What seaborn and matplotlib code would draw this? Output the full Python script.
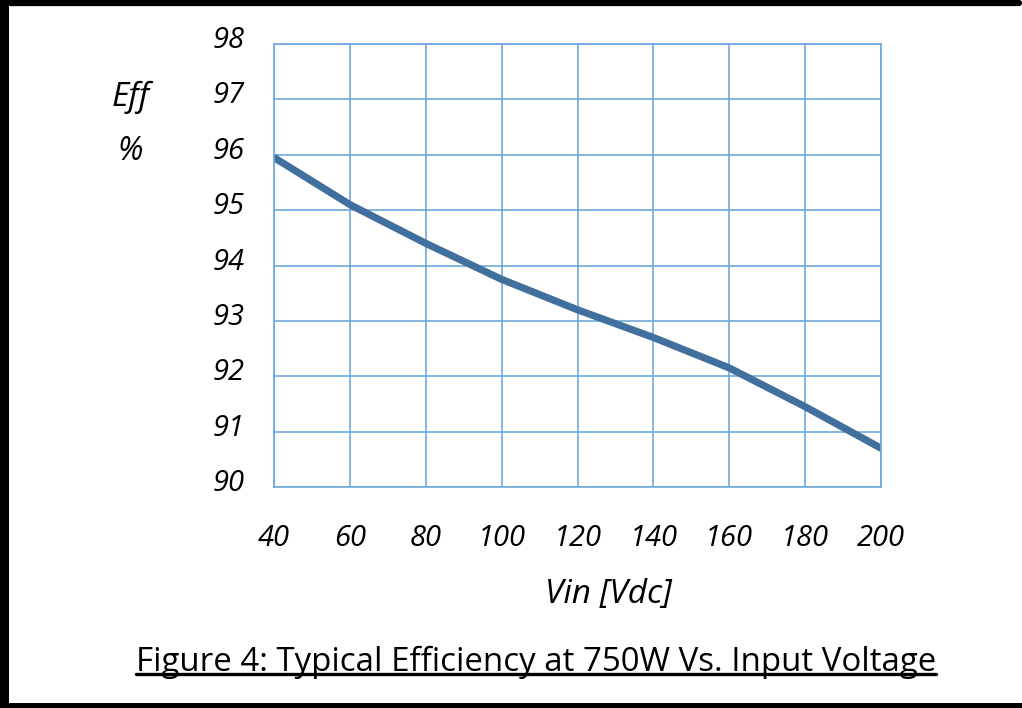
import pandas as pd
import numpy as np
import matplotlib
matplotlib.use('Agg')
import matplotlib.pyplot as plt
import matplotlib.transforms as mtransforms
import seaborn as sns
from matplotlib.lines import Line2D

# data
vin = [40, 60, 80, 100, 120, 140, 160, 180, 200]
eff = [95.95, 95.1, 94.4, 93.75, 93.2, 92.7, 92.15, 91.45, 90.7]
x_ticks = [40, 60, 80, 100, 120, 140, 160, 180, 200]
y_ticks = [90, 91, 92, 93, 94, 95, 96, 97, 98]

grid_col = '#6fa8dc'
line_col = '#41709f'
font = 'Open Sans'


def main():
    df = pd.DataFrame({'vin': vin, 'eff': eff})

    sns.set_style('white')
    plt.rcParams['font.family'] = [font, 'DejaVu Sans']
    plt.rcParams['text.color'] = 'black'
    plt.rcParams['xtick.labelcolor'] = 'black'
    plt.rcParams['ytick.labelcolor'] = 'black'

    fig = plt.figure(figsize=(10.22, 7.08), dpi=100)
    ax = fig.add_axes([274 / 1022, 1 - 487 / 708, (881 - 274) / 1022, (487 - 44) / 708])

    sns.lineplot(data=df, x='vin', y='eff', color=line_col, linewidth=5.2, ax=ax)

    ax.set_xlim(40, 200)
    ax.set_ylim(90, 98)
    ax.set_xticks(x_ticks)
    ax.set_yticks(y_ticks)
    ax.set_xticklabels([str(v) for v in x_ticks], fontsize=21, style='italic')
    ax.set_yticklabels([str(v) for v in y_ticks], fontsize=21, style='italic')
    ax.tick_params(axis='x', length=5, color=grid_col, width=1.2, pad=21.5, labelcolor='black')
    ax.tick_params(axis='y', length=5, color=grid_col, width=1.2, pad=16, labelcolor='black')
    # y labels sit a little above their gridlines
    shift = mtransforms.ScaledTranslation(0, 5 / 72, fig.dpi_scale_trans)
    for lab in ax.get_yticklabels():
        lab.set_transform(lab.get_transform() + shift)
    ax.grid(True, color=grid_col, linewidth=1.2)
    for sp in ax.spines.values():
        sp.set_color(grid_col)
        sp.set_linewidth(1.2)
    ax.set_xlabel('')
    ax.set_ylabel('')

    # axis captions
    fig.text(131 / 1022, 1 - 97 / 708, 'Eff', fontsize=24, style='italic', ha='center', va='center')
    fig.text(130 / 1022, 1 - 152 / 708, '%', fontsize=23, style='italic', ha='center', va='center')
    fig.text(608 / 1022, 1 - 595 / 708, 'Vin [Vdc]', fontsize=24, style='italic', ha='center', va='center')

    title = fig.text(536 / 1022, 1 - 671 / 708, 'Figure 4: Typical Efficiency at 750W Vs. Input Voltage',
                     fontsize=23.8, ha='center', va='baseline')

    # underline under the caption
    fig.canvas.draw()
    bb = title.get_window_extent().transformed(fig.transFigure.inverted())
    y_ul = 1 - 674 / 708
    fig.add_artist(Line2D([bb.x0, bb.x1], [y_ul, y_ul], color='black', linewidth=2.4,
                          transform=fig.transFigure))

    # frame round the figure (left, top, bottom)
    fig.add_artist(Line2D([0.004, 0.004], [0, 1], color='black', linewidth=6.5, transform=fig.transFigure))
    fig.add_artist(Line2D([0, 0.997], [0.9955, 0.9955], color='black', linewidth=4.5, transform=fig.transFigure))
    fig.add_artist(Line2D([0, 1], [0.0035, 0.0035], color='black', linewidth=5, transform=fig.transFigure))

    fig.savefig('out.png', dpi=100)


if __name__ == '__main__':
    main()
